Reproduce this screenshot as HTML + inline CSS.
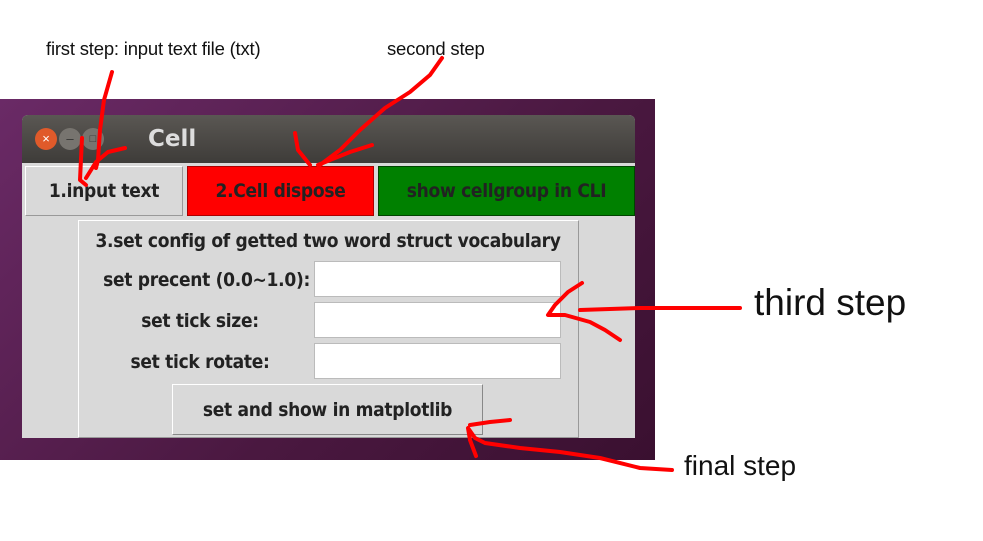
<!DOCTYPE html>
<html><head><meta charset="utf-8"><style>
body{margin:0;width:983px;height:541px;background:#fff;position:relative;overflow:hidden;font-family:"Liberation Sans","DejaVu Sans",sans-serif}
.a{position:absolute;box-sizing:border-box}
.t{position:absolute;white-space:nowrap;color:#111}
.b{font-weight:bold;font-size:19px;color:#222;display:flex;align-items:center;justify-content:center;font-family:"DejaVu Sans Condensed","DejaVu Sans",sans-serif;letter-spacing:-0.3px}
</style></head><body>
<div class="a" style="left:0;top:99px;width:655px;height:361px;background:linear-gradient(135deg,#6a2a66,#4a1840 60%,#3a1030)"></div>
<div class="a" style="left:22px;top:115px;width:613px;height:323px;background:#d9d9d9;border-radius:6px 6px 0 0"></div>
<div class="a" style="left:22px;top:115px;width:613px;height:48px;background:linear-gradient(#5a5753,#3e3c39);border-radius:6px 6px 0 0"></div>
<div class="a" style="left:35px;top:128px;width:22px;height:22px;border-radius:50%;background:#e05a2a;color:#fff;font-size:13px;text-align:center;line-height:22px">×</div>
<div class="a" style="left:59px;top:128px;width:22px;height:22px;border-radius:50%;background:#77746f;color:#333;font-size:13px;text-align:center;line-height:22px">–</div>
<div class="a" style="left:82px;top:128px;width:22px;height:22px;border-radius:50%;background:#77746f;color:#333;font-size:11px;text-align:center;line-height:22px">□</div>
<div class="t" style="left:148px;top:126px;font-size:23px;font-weight:bold;color:#ddd;font-family:'DejaVu Sans',sans-serif">Cell</div>
<div class="a b" style="left:25px;top:166px;width:158px;height:50px;background:#d9d9d9;border:1px solid #999;border-top-color:#fff;border-left-color:#fff">1.input text</div>
<div class="a b" style="left:187px;top:166px;width:187px;height:50px;background:#f00;border:1px solid #a00">2.Cell dispose</div>
<div class="a b" style="left:378px;top:166px;width:257px;height:50px;background:#008000;border:1px solid #040">show cellgroup in CLI</div>
<div class="a" style="left:78px;top:220px;width:501px;height:218px;border:1px solid #999;border-top-color:#fff;border-left-color:#fff;background:#d9d9d9"></div>
<div class="t b" style="left:80px;top:228px;width:496px;height:26px">3.set config of getted two word struct vocabulary</div>
<div class="t b" style="left:80px;top:267px;width:230px;height:26px;justify-content:flex-end">set precent (0.0~1.0):</div>
<div class="t b" style="left:100px;top:308px;width:200px;height:26px">set tick size:</div>
<div class="t b" style="left:100px;top:349px;width:200px;height:26px">set tick rotate:</div>
<div class="a" style="left:314px;top:261px;width:247px;height:36px;background:#fff;border:1px solid #bbb"></div>
<div class="a" style="left:314px;top:302px;width:247px;height:36px;background:#fff;border:1px solid #bbb"></div>
<div class="a" style="left:314px;top:343px;width:247px;height:36px;background:#fff;border:1px solid #bbb"></div>
<div class="a b" style="left:172px;top:384px;width:311px;height:51px;background:#d9d9d9;border:1px solid #888;border-top-color:#fff;border-left-color:#fff">set and show in matplotlib</div>
<div class="t" style="left:46px;top:38px;font-size:18.5px;letter-spacing:-0.2px">first step: input text file (txt)</div>
<div class="t" style="left:387px;top:38px;font-size:18.5px;letter-spacing:-0.2px">second step</div>
<div class="t" style="left:754px;top:282px;font-size:37px">third step</div>
<div class="t" style="left:684px;top:450px;font-size:28px">final step</div>
<svg class="a" style="left:0;top:0" width="983" height="541" fill="none" stroke="#f00" stroke-width="4" stroke-linecap="round" stroke-linejoin="round">
<path d="M112 72 L104 100 L100 130 L98 160 L96 168 M82 138 L80 180 L86 185 M125 148 L108 152 L96 162 L86 178"/>
<path d="M442 58 L430 75 L410 92 L385 108 L360 130 L340 150 L320 165 M295 133 L298 150 L310 165 M372 145 L350 152 L330 160 L318 165"/>
<path d="M740 308 L640 308 L580 310 M582 283 L568 292 L555 305 L548 315 L565 315 L590 322 L605 330 L620 340"/>
<path d="M672 470 L640 468 L600 458 L560 452 L520 448 L485 443 L475 438 L468 428 L470 440 L476 456 M510 420 L490 422 L470 425"/>
</svg>
</body></html>
